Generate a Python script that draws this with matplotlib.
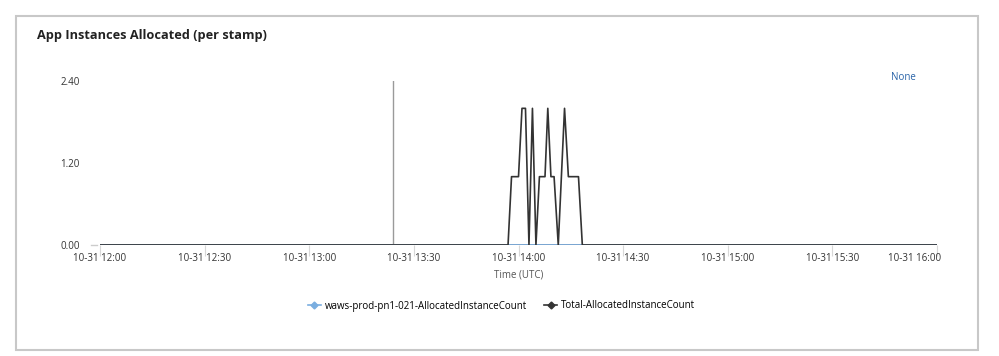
import matplotlib.pyplot as plt
import matplotlib.transforms as mtransforms
from matplotlib.patches import Rectangle

# minutes after 10-31 12:00
total_minutes = [0, 117, 118, 120, 121, 122, 123, 124, 125, 126, 127.6, 128.4, 129.3, 130.2, 131.4,
                 133.2, 134.3, 137.2, 138.3, 240]
total_values = [0, 0, 1, 1, 2, 2, 0, 2, 0, 1, 1, 2, 1, 1, 0, 2, 1, 1, 0, 0]

stamp_minutes = [0, 240]
stamp_values = [0, 0]

marker_minute = 84  # vertical marker at ~13:24

tick_minutes = [0, 30, 60, 90, 120, 150, 180, 210, 240]
tick_labels = ["10-31 12:00", "10-31 12:30", "10-31 13:00", "10-31 13:30", "10-31 14:00",
               "10-31 14:30", "10-31 15:00", "10-31 15:30", "10-31 16:00"]
y_ticks = [0, 1.2, 2.4]
y_labels = ["0.00", "1.20", "2.40"]

plt.rcParams['font.family'] = ['Open Sans', 'DejaVu Sans']

W, H = 999, 356
fig = plt.figure(figsize=(W / 100, H / 100), dpi=100)

# card border
fig.patches.append(Rectangle((16 / W, 6 / H), 962 / W, 334 / H, transform=fig.transFigure,
                             fill=False, edgecolor='#c8c8c8', linewidth=1.5))
fig.text(37 / W, 1 - 35 / H, "App Instances Allocated (per stamp)", fontsize=9.2,
         fontweight='bold', color='#222222', va='center', ha='left')
fig.text(903 / W, 1 - 77 / H, "None", fontsize=7, color='#2a64a8', ha='center', va='center')

ax = fig.add_axes([100 / W, 1 - 245 / H, 837 / W, 164 / H])

ax.axvline(marker_minute, color='#9a9a9a', linewidth=1)
ax.plot(stamp_minutes, stamp_values, color='#7aaee0', linewidth=1.2,
        label="waws-prod-pn1-021-AllocatedInstanceCount")
ax.plot(total_minutes, total_values, color='#333333', linewidth=1.2,
        label="Total-AllocatedInstanceCount")
ax.axhline(0, color='#5a5e6a', linewidth=1.1, zorder=1)

ax.set_xlim(0, 240)
ax.set_ylim(0, 2.4)
for s in ax.spines.values():
    s.set_visible(False)

ax.set_xticks(tick_minutes)
ax.set_xticklabels(tick_labels)
ax.tick_params(axis='x', length=8, color='#d8d8d8', labelsize=7, labelcolor='#333333', pad=-2)
last = ax.get_xticklabels()[-1]
last.set_transform(last.get_transform() +
                   mtransforms.ScaledTranslation(-0.22, 0, fig.dpi_scale_trans))
ax.set_yticks(y_ticks)
ax.set_yticklabels(y_labels)
ax.tick_params(axis='y', length=0, labelsize=7, labelcolor='#333333', pad=14.5)
ax.plot([-2.6, -0.9], [0, 0], color='#cccccc', linewidth=1, clip_on=False)

ax.set_xlabel("Time (UTC)", fontsize=7, color='#555555', labelpad=4)

leg = fig.legend(loc='center', bbox_to_anchor=(0.502, 1 - 306 / H), ncol=2, frameon=False,
                 fontsize=7, handlelength=1.3, columnspacing=1.8, handletextpad=0.4)
for h in leg.legend_handles:
    h.set_marker('D')
    h.set_markersize(3.5)

fig.savefig("out.png", dpi=100)
